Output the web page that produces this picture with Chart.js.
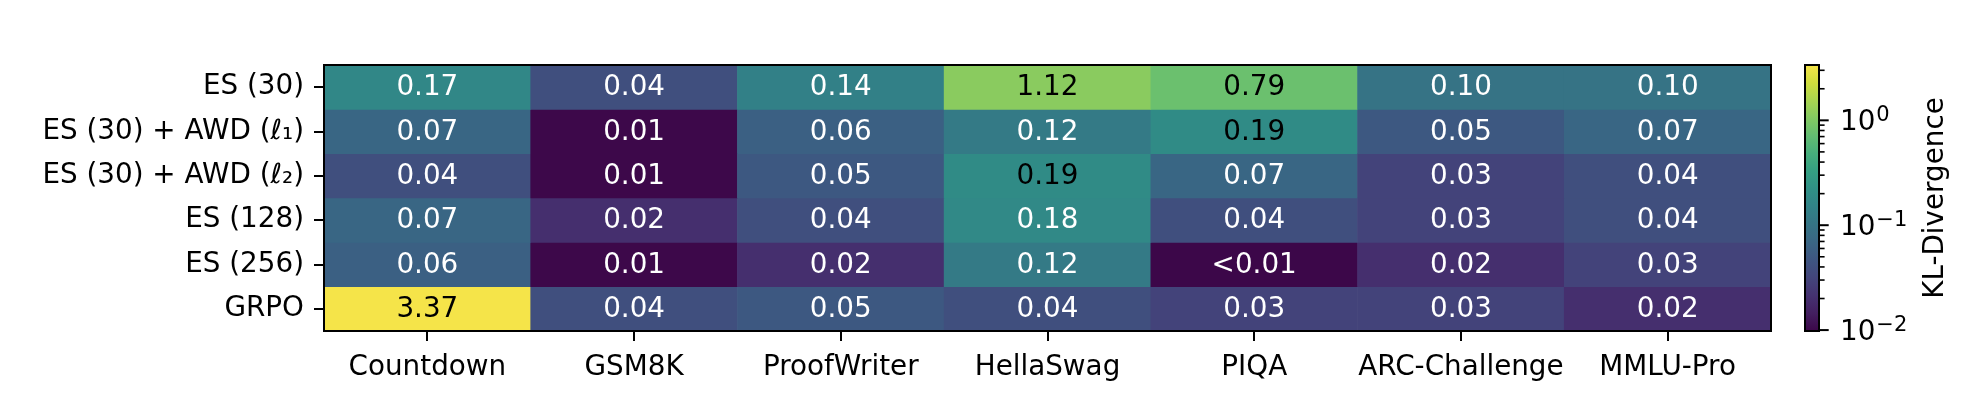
<!DOCTYPE html>
<html>
<head>
<meta charset="utf-8">
<script src="https://cdn.jsdelivr.net/npm/chart.js@4/dist/chart.umd.min.js"></script>
<style>
  html, body { margin: 0; padding: 0; background: #fff; }
  canvas { display: block; }
</style>
</head>
<body>
<canvas id="heat" width="1988" height="402"></canvas>
<script>
'use strict';

var tasks = ['Countdown', 'GSM8K', 'ProofWriter', 'HellaSwag', 'PIQA', 'ARC-Challenge', 'MMLU-Pro'];
var methods = ['ES (30)', 'ES (30) + AWD (\u2113\u2081)', 'ES (30) + AWD (\u2113\u2082)', 'ES (128)', 'ES (256)', 'GRPO'];

var es30      = [0.17, 0.04, 0.14, 1.12, 0.79, 0.10, 0.10];
var es30AwdL1 = [0.07, 0.01, 0.06, 0.12, 0.19, 0.05, 0.07];
var es30AwdL2 = [0.04, 0.01, 0.05, 0.19, 0.07, 0.03, 0.04];
var es128     = [0.07, 0.02, 0.04, 0.18, 0.04, 0.03, 0.04];
var es256     = [0.06, 0.01, 0.02, 0.12, 0.0098, 0.02, 0.03];
var grpo      = [3.37, 0.04, 0.05, 0.04, 0.03, 0.03, 0.02];

var rows = [es30, es30AwdL1, es30AwdL2, es128, es256, grpo];

var cbMajor = [0.01, 0.1, 1];
var cbMajorExp = ['\u22122', '\u22121', '0'];

var FONT = 'DejaVu Sans';

var viridisStops = ['#440154', '#481a6c', '#472f7d', '#414487', '#39568c', '#31688e', '#2a788e', '#23888e',
                    '#1f988b', '#22a884', '#35b779', '#54c568', '#7ad151', '#a5db36', '#d2e21b', '#fde725'];

var allVals = [].concat.apply([], rows);
var vmin = Math.min.apply(null, allVals);
var vmax = Math.max.apply(null, allVals);

function hexRgb(h) {
  return [parseInt(h.substr(1, 2), 16), parseInt(h.substr(3, 2), 16), parseInt(h.substr(5, 2), 16)];
}

// the reference colours look a little washed out compared to plain viridis
function mute(c) {
  var l = 0.299 * c[0] + 0.587 * c[1] + 0.114 * c[2];
  return c.map(function (x) { return Math.round(x * 0.8 + l * 0.2); });
}

function norm(v) {
  var t = (Math.log(v) - Math.log(vmin)) / (Math.log(vmax) - Math.log(vmin));
  return Math.max(0, Math.min(1, t));
}

function viridis(t) {
  var p = t * (viridisStops.length - 1);
  var i = Math.min(Math.floor(p), viridisStops.length - 2);
  var f = p - i;
  var a = hexRgb(viridisStops[i]), b = hexRgb(viridisStops[i + 1]);
  var c = a.map(function (x, k) { return x + (b[k] - x) * f; });
  return 'rgb(' + mute(c).join(',') + ')';
}

function fmt(v) {
  return v < 0.01 ? '<0.01' : v.toFixed(2);
}

var datasets = rows.map(function (vals, r) {
  return {
    label: methods[r],
    data: vals.map(function () { return [r, r + 1]; }),
    backgroundColor: vals.map(function (v) { return viridis(norm(v)); }),
    borderWidth: 0,
    grouped: false,
    barPercentage: 1,
    categoryPercentage: 1
  };
});

var cellText = {
  id: 'cellText',
  afterDatasetsDraw: function (chart) {
    var ctx = chart.ctx;
    var xs = chart.scales.x, ys = chart.scales.y;
    ctx.save();
    ctx.font = '27.8px "' + FONT + '"';
    ctx.textAlign = 'center';
    ctx.textBaseline = 'middle';
    rows.forEach(function (vals, r) {
      vals.forEach(function (v, c) {
        ctx.fillStyle = norm(v) > 0.5 ? '#000' : '#fff';
        ctx.fillText(fmt(v), xs.getPixelForValue(c), ys.getPixelForValue(r + 0.5) + 1);
      });
    });
    var a = chart.chartArea;
    ctx.strokeStyle = '#000';
    ctx.lineWidth = 2;
    ctx.strokeRect(a.left, a.top, a.right - a.left, a.bottom - a.top);
    ctx.restore();
  }
};

var colorBar = {
  id: 'colorBar',
  afterDraw: function (chart) {
    var ctx = chart.ctx;
    var cb = chart.scales.cb;
    var x0 = 1805, x1 = 1819;
    var top = cb.getPixelForValue(vmax), bot = cb.getPixelForValue(vmin);
    ctx.save();
    var g = ctx.createLinearGradient(0, bot, 0, top);
    viridisStops.forEach(function (s, i) { g.addColorStop(i / (viridisStops.length - 1), viridis(i / (viridisStops.length - 1))); });
    ctx.fillStyle = g;
    ctx.fillRect(x0, top, x1 - x0, bot - top);
    ctx.strokeStyle = '#000';
    ctx.lineWidth = 2;
    ctx.strokeRect(x0, top, x1 - x0, bot - top);

    // minor ticks
    ctx.lineWidth = 1.6;
    [0.01, 0.1, 1].forEach(function (d) {
      for (var m = 2; m <= 9; m++) {
        var v = d * m;
        if (v < vmin || v > vmax) continue;
        var y = cb.getPixelForValue(v);
        ctx.beginPath();
        ctx.moveTo(x1, y);
        ctx.lineTo(x1 + 5.6, y);
        ctx.stroke();
      }
    });

    // major ticks + labels
    ctx.lineWidth = 2;
    ctx.fillStyle = '#000';
    ctx.textAlign = 'left';
    ctx.textBaseline = 'alphabetic';
    cbMajor.forEach(function (v, i) {
      if (v < vmin * 0.999 || v > vmax) return;
      var y = cb.getPixelForValue(v);
      ctx.beginPath();
      ctx.moveTo(x1, y);
      ctx.lineTo(x1 + 9.7, y);
      ctx.stroke();
      ctx.font = '27.8px "' + FONT + '"';
      ctx.fillText('10', 1840, y + 10);
      var w = ctx.measureText('10').width;
      ctx.font = '21px "' + FONT + '"';
      ctx.fillText(cbMajorExp[i], 1840 + w + 1, y + 1);
    });

    ctx.translate(1943, (top + bot) / 2);
    ctx.rotate(-Math.PI / 2);
    ctx.font = '27.8px "' + FONT + '"';
    ctx.textAlign = 'center';
    ctx.textBaseline = 'alphabetic';
    ctx.fillText('KL-Divergence', 0, 0);
    ctx.restore();
  }
};

new Chart(document.getElementById('heat'), {
  type: 'bar',
  data: { labels: tasks, datasets: datasets },
  options: {
    responsive: false,
    devicePixelRatio: 1,
    animation: false,
    layout: { padding: { top: 65, right: 217, bottom: 0, left: 0 } },
    plugins: { legend: { display: false }, tooltip: { enabled: false } },
    scales: {
      x: {
        type: 'category',
        offset: true,
        border: { display: false },
        grid: { offset: false, drawOnChartArea: false, drawTicks: true, tickLength: 10, color: '#000', lineWidth: 2 },
        ticks: { color: '#000', font: { family: FONT, size: 27.8 }, padding: 10, maxRotation: 0, autoSkip: false },
        afterFit: function (s) { s.height = 71; }
      },
      y: {
        type: 'linear',
        min: 0,
        max: 6,
        reverse: true,
        border: { display: false },
        grid: { drawOnChartArea: false, drawTicks: true, tickLength: 10, color: '#000', lineWidth: 2 },
        ticks: {
          color: '#000',
          font: { family: FONT, size: 27.8 },
          padding: 10,
          autoSkip: false,
          callback: function (v, i) { return methods[i]; }
        },
        afterBuildTicks: function (s) {
          s.ticks = methods.map(function (_, i) { return { value: i + 0.5 }; });
        },
        afterFit: function (s) { s.width = 324; }
      },
      cb: {
        type: 'logarithmic',
        position: 'right',
        display: false,
        min: vmin,
        max: vmax,
        bounds: 'data'
      }
    }
  },
  plugins: [cellText, colorBar]
});
</script>
</body>
</html>
